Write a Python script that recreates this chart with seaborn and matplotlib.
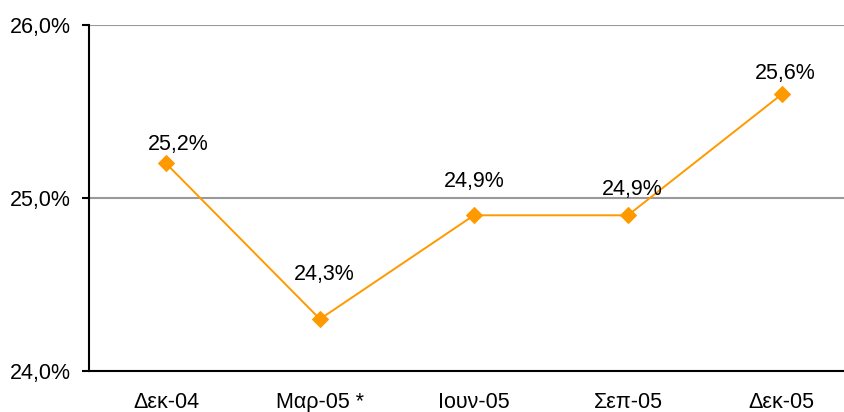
import pandas as pd
import matplotlib
matplotlib.use("Agg")
import matplotlib.pyplot as plt
import seaborn as sns

# data
periods = ["Δεκ-04", "Μαρ-05 *", "Ιουν-05", "Σεπ-05", "Δεκ-05"]
values = [25.2, 24.3, 24.9, 24.9, 25.6]
yticks = [24.0, 25.0, 26.0]

# where each data label sits relative to its point (points, baseline)
label_dx = [8.6, 3.2, 0, 2.9, 2.2]
label_dy = [9.4, 28.1, 20.2, 14.4, 10.8]

df = pd.DataFrame({"period": periods, "value": values, "pos": range(len(periods))})

sns.set_style("white")
plt.rcParams["font.family"] = ["Liberation Sans", "DejaVu Sans"]
plt.rcParams["text.color"] = "black"
plt.rcParams["xtick.color"] = "black"
plt.rcParams["ytick.color"] = "black"

fig = plt.figure(figsize=(8.45, 4.12), dpi=100)
ax = fig.add_axes([89 / 845, 1 - 371 / 412, 1 - 89 / 845, (371 - 25) / 412])

orange = "#FF9900"
sns.lineplot(data=df, x="pos", y="value", ax=ax, color=orange, linewidth=1.4,
             marker="D", markersize=8, markeredgecolor=orange, sort=False)

for i, v in enumerate(values):
    ax.annotate(f"{v:.1f}%".replace(".", ","), (i, v), xytext=(label_dx[i], label_dy[i]),
                textcoords="offset points", ha="center", va="baseline",
                fontsize=15.5, color="black")

ax.set_ylim(24, 26)
ax.set_xlim(-0.5, 4.41)
ax.set_yticks(yticks)
ax.set_yticklabels([f"{t:.1f}%".replace(".", ",") for t in yticks], fontsize=15.5)
ax.set_xticks(range(len(periods)))
ax.set_xticklabels(periods, fontsize=15.5)
ax.tick_params(axis="y", length=5, width=1.5, colors="black", pad=8, left=True)
ax.tick_params(axis="x", length=0, pad=15, colors="black")
ax.grid(axis="y", color="#999999", linewidth=1.5)
ax.set_axisbelow(True)
ax.set_xlabel("")
ax.set_ylabel("")
for s in ["top", "right"]:
    ax.spines[s].set_visible(False)
for s in ["left", "bottom"]:
    ax.spines[s].set_color("black")
    ax.spines[s].set_linewidth(1.5)

fig.savefig("out.png", dpi=100)
